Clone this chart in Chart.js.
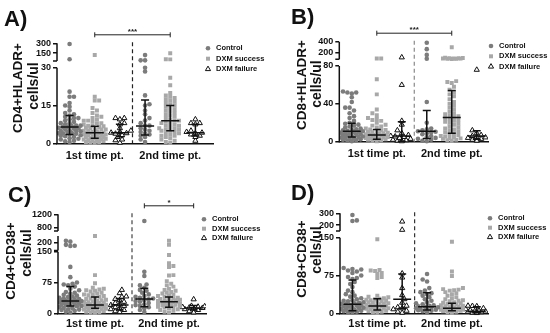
<!DOCTYPE html>
<html>
<head>
<meta charset="utf-8">
<script src="https://cdn.jsdelivr.net/npm/chart.js"></script>
<style>
  body { margin: 0; background: #fff; font-family: "Liberation Sans", Arial, sans-serif; }
  #wrap { position: relative; width: 550px; height: 333px; overflow: hidden; }
  canvas { position: absolute; }
  .letter { position: absolute; font-weight: bold; font-size: 22px; line-height: 22px; color: #111; }
  .yt { position: absolute; font-weight: bold; line-height: 16px; white-space: nowrap; color: #111;
        transform: translate(-50%, -50%) rotate(-90deg); }
  .l1 { font-size: 13.5px; }
  .l2 { font-size: 14px; }
</style>
</head>
<body>
<div id="wrap">
  <canvas id="chartA" width="275" height="166" style="left:0;top:0"></canvas>
  <canvas id="chartB" width="275" height="166" style="left:275px;top:0"></canvas>
  <canvas id="chartC" width="275" height="167" style="left:0;top:166px"></canvas>
  <canvas id="chartD" width="275" height="167" style="left:275px;top:166px"></canvas>

  <div class="letter" style="left:4px;top:8px">A)</div>
  <div class="letter" style="left:291px;top:6px">B)</div>
  <div class="letter" style="left:8px;top:184px">C)</div>
  <div class="letter" style="left:291px;top:182px">D)</div>

  <div class="yt l1" style="left:18px;top:88px">CD4+HLADR+</div>
  <div class="yt l2" style="left:33px;top:86px">cells/ul</div>
  <div class="yt l1" style="left:302px;top:85px">CD8+HLADR+</div>
  <div class="yt l2" style="left:316px;top:84px">cells/ul</div>
  <div class="yt l1" style="left:11px;top:261px">CD4+CD38+</div>
  <div class="yt l2" style="left:26px;top:253px">cells/ul</div>
  <div class="yt l1" style="left:302px;top:259px">CD8+CD38+</div>
  <div class="yt l2" style="left:316px;top:250px">cells/ul</div>
</div>

<script>
const groupNames = ["Control", "DXM success", "DXM failure"];
const timeLabels = ["1st time pt.", "2nd time pt."];
const timeTicks = [2, 5];

// Panel A: CD4+HLADR+
const aTicks = [0, 15, 30, 150, 300];
const aCtrl1 = [290, 56, 20.5, 18.5, 18.5, 16, 15, 14.5, 13, 12, 11.5, 11, 10.5, 10, 10, 9.5, 9, 8.5, 8, 8, 7.5, 7, 7, 6.8, 6.5, 6.5, 6.2, 6, 5.8, 5.5, 5.2, 5, 5, 4.8, 4.5, 4.2, 4, 4, 3.8, 3.5, 3.2, 3, 2.8, 2.5, 2, 1.8, 1.5, 1, 0.8, 0.5];
const aSucc1 = [120, 18.5, 17, 17, 14, 13, 12, 11, 10.5, 10, 9.5, 9, 9, 8.5, 8, 8, 7.5, 7, 7, 6.8, 6.5, 6.2, 6, 6, 5.5, 5.5, 5, 5, 4.8, 4.5, 4.2, 4, 4, 4, 3.8, 3.5, 3.5, 3.2, 3, 3, 2.8, 2.5, 2.5, 2.2, 2, 2, 1.8, 1.5, 1.5, 1.2, 1, 1, 0.8, 0.5, 0.5, 0.3, 0.2];
const aFail1 = [10, 10, 9.5, 8, 7.5, 6, 5, 4.5, 4.2, 4, 3.8, 3.2, 2.5, 1.5, 1.2, 0.2];
const aCtrl2 = [120, 40, 40, 30, 28.5, 19, 15.5, 15, 13, 11.5, 10, 9, 8, 7, 7, 6, 5.5, 5, 4.5, 4, 3.5, 3, 2.5, 1.5, 0.5];
const aSucc2 = [147, 56, 55, 26, 23, 20, 19, 18.5, 18, 17.5, 17, 16.5, 16, 15.5, 15, 14.5, 14, 13.5, 13, 12.5, 12, 11.5, 11, 10.5, 10, 9.5, 9, 9, 8.5, 8, 8, 7.5, 7, 7, 6.5, 6, 6, 5.5, 5.5, 5, 5, 4.5, 4, 4, 3.5, 3, 3, 2.5, 2, 1.5, 1, 0.5, 0.2];
const aFail2 = [9.5, 8, 8, 7.5, 5, 4.5, 4.2, 4, 3.5, 3, 2.5, 1];
const aMedian = [6.5, 4.2, 4.2, 6.9, 8.9, 4.2];
const aLow = [3.5, 2, 2.6, 3.3, 5, 2.9];
const aHigh = [11, 6.8, 7.6, 17.2, 15, 7.6];

// Panel B: CD8+HLADR+
const bTicks = [0, 40, 80, 200, 400];
const bCtrl1 = [53, 52, 52, 51, 47, 42, 36, 36, 33, 30, 27, 25, 22, 20, 19, 18, 17, 16, 15, 14, 13, 12.5, 12, 11.5, 11, 10.5, 10, 9.5, 9, 8.5, 8, 7.5, 7, 6.5, 6, 5.5, 5, 4.5, 4, 3.5, 3, 2.5, 2, 1.5, 1, 0.5];
const bSucc1 = [95, 95, 66, 50, 34, 30, 28, 25, 24, 23, 22, 20, 18, 17, 16, 15, 14, 13, 12.5, 12, 11, 10.5, 10, 9.5, 9, 8.5, 8, 7.5, 7, 7, 6.5, 6, 5.5, 5, 5, 4.5, 4, 3.5, 3, 3, 2.5, 2, 1.5, 1, 0.5];
const bFail1 = [115, 60, 22, 18, 12, 9, 7, 6, 5.5, 5, 4, 3, 2, 1.5, 1, 0.5];
const bCtrl2 = [380, 265, 160, 90, 42, 20, 14, 13, 12, 11, 10.5, 10, 9, 8, 6, 5, 4, 3, 2, 1, 0.5];
const bSucc2 = [300, 110, 105, 100, 100, 95, 95, 92, 90, 88, 85, 64, 63, 62, 58, 55, 52, 50, 48, 45, 42, 40, 38, 36, 34, 32, 30, 29, 28, 27, 26, 25, 24, 23, 22, 21, 20, 19, 18, 16, 15, 14, 13, 12, 11, 10, 9, 8, 7, 6, 5.5, 5, 4, 3.5, 3, 2, 1.5, 1];
const bFail2 = [76, 12, 9, 7, 6, 5, 4.5, 4, 3, 2, 1];
const bMedian = [11, 7, 6, 11, 25.5, 6];
const bLow = [5, 2.5, 0.5, 3.5, 8.8, 2.5];
const bHigh = [19.4, 13, 21, 33, 54, 11.5];

// Panel C: CD4+CD38+
const cTicks = [0, 75, 150, 200, 800, 1200];
const cCtrl1 = [210, 205, 185, 180, 178, 113, 88, 75, 72, 70, 68, 65, 60, 56, 52, 50, 48, 45, 43, 41, 40, 38, 36, 35, 34, 33, 32, 31, 30, 29, 28, 27, 26, 25, 24, 22, 21, 20, 19, 18, 17, 15, 13, 12, 10, 9, 8, 6, 4, 2];
const cSucc1 = [240, 93, 73, 62, 60, 58, 56, 55, 53, 50, 48, 46, 45, 44, 42, 40, 38, 36, 35, 33, 32, 30, 29, 28, 27, 26, 25, 24, 23, 22, 21, 20, 20, 19, 18, 17, 16, 15, 14, 13, 12, 11, 10, 9, 8, 7, 6, 5, 4, 3, 2, 1];
const cFail1 = [57, 49, 41, 40, 35, 32, 28, 25, 22, 20, 18, 15, 12, 10, 8, 5, 3];
const cCtrl2 = [1000, 101, 91, 70, 68, 62, 57, 55, 50, 46, 42, 40, 38, 36, 34, 32, 30, 28, 25, 22, 20, 18, 15, 12, 8, 3];
const cSucc2 = [210, 185, 142, 122, 115, 113, 93, 92, 78, 72, 68, 65, 60, 57, 55, 52, 50, 48, 45, 43, 42, 40, 38, 36, 35, 34, 33, 32, 31, 30, 29, 28, 28, 27, 26, 25, 24, 23, 22, 21, 20, 19, 18, 17, 16, 15, 14, 12, 10, 8, 6, 4, 2];
const cFail2 = [34, 18, 17, 16, 15, 14, 13, 12, 10, 8, 5, 2];
const cMedian = [30, 20, 20, 35, 28, 13];
const cLow = [18, 12, 8, 16, 14.6, 8];
const cHigh = [65, 40, 36, 61, 40, 19];

// Panel D: CD8+CD38+
const dTicks = [0, 75, 150, 200, 300];
const dCtrl1 = [285, 240, 235, 90, 88, 87, 85, 83, 80, 75, 72, 70, 68, 62, 58, 52, 45, 42, 38, 35, 33, 30, 28, 26, 25, 24, 22, 21, 20, 19, 18, 17, 16, 15, 14, 13, 12, 11, 10, 9, 8, 7, 6, 5, 4, 3, 2, 1];
const dSucc1 = [147, 86, 85, 84, 80, 78, 72, 70, 35, 33, 32, 30, 29, 28, 27, 26, 25, 24, 23, 22, 21, 20, 19, 18, 17, 16, 15, 15, 14, 13, 12, 11, 10, 10, 9, 8, 7, 6, 5, 4, 3, 2, 1];
const dFail1 = [230, 160, 79, 71, 50, 36, 28, 21, 15, 12, 10, 8, 5, 3, 1];
const dCtrl2 = [78, 67, 63, 50, 45, 42, 40, 38, 35, 32, 28, 25, 22, 20, 18, 16, 15, 14, 13, 12, 11, 10, 9, 8, 7, 6, 5, 4, 2];
const dSucc2 = [142, 83, 74, 50, 48, 47, 46, 45, 42, 40, 38, 35, 32, 30, 28, 26, 25, 24, 22, 21, 20, 19, 18, 17, 16, 15, 14, 13, 12, 11, 10, 10, 9, 9, 8, 8, 7, 7, 6, 6, 5, 5, 4, 3, 2, 1];
const dFail2 = [15, 14.5, 14, 10, 8, 6, 5, 4, 3.5, 3, 2, 1, 0.5];
const dMedian = [18, 14.5, 28, 13, 10, 4];
const dLow = [5, 6.6, 10, 6.6, 5.3, 1.3];
const dHigh = [66, 29, 78, 41, 20, 13];

const pointColors = ["#7c7c7c", "#a8a8a8", "#ffffff"];
const pointStyles = ["circle", "rect", "triangle"];

const panels = [
  { id: "chartA", w: 275, h: 166, left: 57, right: 213, top: 43.3, bottom: 143.3, xMax: 6.7, xPad: 6,
    segs: [{ from: 0, to: 30, lo: 0, hi: 0.756 }, { from: 30, to: 300, lo: 0.823, hi: 1 }],
    ticks: aTicks, groups: [[aCtrl1, aCtrl2], [aSucc1, aSucc2], [aFail1, aFail2]],
    median: aMedian, low: aLow, high: aHigh,
    legendX: 208, legendY: 48.3, legendStep: 10.4, bracket: { from: 2, to: 5, label: "***" }, dash: "#222" },
  { id: "chartB", w: 275, h: 166, left: 64.3, right: 213, top: 41.7, bottom: 141.7, xMax: 6.45, xPad: 6,
    segs: [{ from: 0, to: 80, lo: 0, hi: 0.757 }, { from: 80, to: 400, lo: 0.824, hi: 1 }],
    ticks: bTicks, groups: [[bCtrl1, bCtrl2], [bSucc1, bSucc2], [bFail1, bFail2]],
    median: bMedian, low: bLow, high: bHigh,
    legendX: 216, legendY: 46, legendStep: 10.3, bracket: { from: 2, to: 5, label: "***" }, dash: "#8a8a8a" },
  { id: "chartC", w: 275, h: 167, left: 58, right: 206, top: 48.3, bottom: 147.3, xMax: 6.5, xPad: 4,
    segs: [{ from: 0, to: 150, lo: 0, hi: 0.622 }, { from: 150, to: 240, lo: 0.634, hi: 0.781 },
           { from: 700, to: 1200, lo: 0.831, hi: 1 }],
    ticks: cTicks, groups: [[cCtrl1, cCtrl2], [cSucc1, cSucc2], [cFail1, cFail2]],
    median: cMedian, low: cLow, high: cHigh,
    legendX: 204, legendY: 53.3, legendStep: 9.4, bracket: { from: 4, to: 6, label: "*" }, dash: "#444" },
  { id: "chartD", w: 275, h: 167, left: 65, right: 213, top: 47.3, bottom: 147.3, xMax: 6.45, xPad: 4,
    segs: [{ from: 0, to: 150, lo: 0, hi: 0.756 }, { from: 150, to: 300, lo: 0.823, hi: 1 }],
    ticks: dTicks, groups: [[dCtrl1, dCtrl2], [dSucc1, dSucc2], [dFail1, dFail2]],
    median: dMedian, low: dLow, high: dHigh,
    legendX: 215, legendY: 52.3, legendStep: 9.4, bracket: null, dash: "#333" },
];

Chart.defaults.font.family = '"Liberation Sans", Arial, sans-serif';
Chart.defaults.color = "#111";

// value -> 0..1 position along a broken axis
function fracOf(segs, v) {
  for (let i = 0; i < segs.length; i++) {
    const s = segs[i];
    if (v <= s.to || i === segs.length - 1) {
      if (i > 0 && v < s.from) return segs[i - 1].hi;
      const t = Math.max(0, Math.min(1, (v - s.from) / (s.to - s.from)));
      return s.lo + t * (s.hi - s.lo);
    }
  }
  return 0;
}

class BrokenScale extends Chart.LinearScale {
  static id = "broken";
  determineDataLimits() {
    const segs = this.options.segments;
    this.min = segs[0].from;
    this.max = segs[segs.length - 1].to;
  }
  buildTicks() {
    return this.options.tickValues.map((v) => ({ value: v }));
  }
  getPixelForValue(value) {
    if (value === null || value === undefined) return NaN;
    return this.getPixelForDecimal(fracOf(this.options.segments, value));
  }
}
Chart.register(BrokenScale);

// simple deterministic swarm so the dots spread sideways like a Prism dot plot
function swarm(values, center, p) {
  const unit = (p.right - p.left) / (p.xMax - 0.5);
  const hgt = p.bottom - p.top;
  const placed = [];
  return values.slice().sort((a, b) => a - b).map((v) => {
    const py = fracOf(p.segs, v) * hgt;
    let best = 0, bestGap = -1, found = false;
    for (let k = 0; k <= 5 && !found; k++) {
      const o = k * 2.2;
      const offs = k === 0 ? [0] : (placed.length % 2 ? [-o, o] : [o, -o]);
      for (const off of offs) {
        let gap = Infinity;
        placed.forEach((q) => { gap = Math.min(gap, Math.hypot(q.x - off, q.y - py)); });
        if (gap >= 3.6) { best = off; found = true; break; }
        if (gap > bestGap) { bestGap = gap; best = off; }
      }
    }
    placed.push({ x: best, y: py });
    return { x: center + best / unit, y: v };
  });
}

function drawSymbol(ctx, style, x, y) {
  ctx.beginPath();
  if (style === "circle") {
    ctx.fillStyle = pointColors[0];
    ctx.arc(x, y, 2.3, 0, Math.PI * 2);
    ctx.fill();
  } else if (style === "rect") {
    ctx.fillStyle = pointColors[1];
    ctx.fillRect(x - 2, y - 2, 4, 4);
  } else {
    ctx.moveTo(x, y - 3);
    ctx.lineTo(x + 2.6, y + 1.5);
    ctx.lineTo(x - 2.6, y + 1.5);
    ctx.closePath();
    ctx.fillStyle = "#fff";
    ctx.fill();
    ctx.strokeStyle = "#111";
    ctx.lineWidth = 1;
    ctx.stroke();
  }
}

const panelExtras = {
  id: "panelExtras",
  beforeDatasetsDraw(chart, args, opts) {
    const { ctx, chartArea } = chart;
    const xs = chart.scales.x;
    const x = xs.getPixelForValue(3.5);
    ctx.save();
    ctx.strokeStyle = opts.dash;
    ctx.lineWidth = 1.2;
    ctx.setLineDash([4, 3]);
    ctx.beginPath();
    ctx.moveTo(x, chartArea.top - 1);
    ctx.lineTo(x, chartArea.bottom);
    ctx.stroke();
    ctx.restore();
  },
  afterDatasetsDraw(chart, args, opts) {
    const { ctx } = chart;
    const xs = chart.scales.x, ys = chart.scales.y;
    ctx.save();
    ctx.strokeStyle = "#111";
    ctx.lineWidth = 1.5;
    opts.median.forEach((m, i) => {
      const cx = xs.getPixelForValue(i + 1);
      const half = xs.getPixelForValue(i + 1.36) - cx;
      const cap = xs.getPixelForValue(i + 1.16) - cx;
      const ym = ys.getPixelForValue(m);
      const yl = ys.getPixelForValue(opts.low[i]);
      const yh = ys.getPixelForValue(opts.high[i]);
      ctx.beginPath();
      ctx.moveTo(cx - half, ym); ctx.lineTo(cx + half, ym);
      ctx.moveTo(cx, yl); ctx.lineTo(cx, yh);
      ctx.moveTo(cx - cap, yl); ctx.lineTo(cx + cap, yl);
      ctx.moveTo(cx - cap, yh); ctx.lineTo(cx + cap, yh);
      ctx.stroke();
    });
    ctx.restore();
  },
  afterDraw(chart, args, opts) {
    const { ctx, chartArea } = chart;
    const xs = chart.scales.x, ys = chart.scales.y;
    ctx.save();
    // broken y axis line
    ctx.strokeStyle = "#111";
    ctx.lineWidth = 1.5;
    opts.segs.forEach((s, i) => {
      const y0 = ys.getPixelForDecimal(s.lo), y1 = ys.getPixelForDecimal(s.hi);
      ctx.beginPath();
      ctx.moveTo(chartArea.left, y0 + (i === 0 ? 0.75 : 0));
      ctx.lineTo(chartArea.left, y1);
      if (i > 0) {
        ctx.moveTo(chartArea.left - 4, y0);
        ctx.lineTo(chartArea.left, y0);
      }
      ctx.stroke();
    });
    // legend
    ctx.font = 'bold 7.5px "Liberation Sans", Arial, sans-serif';
    ctx.textBaseline = "middle";
    ctx.textAlign = "left";
    groupNames.forEach((name, i) => {
      const y = opts.legendY + i * opts.legendStep;
      drawSymbol(ctx, pointStyles[i], opts.legendX, y);
      ctx.fillStyle = "#111";
      ctx.fillText(name, opts.legendX + 8, y);
    });
    // significance bracket
    if (opts.bracket) {
      const b = opts.bracket;
      const x1 = xs.getPixelForValue(b.from), x2 = xs.getPixelForValue(b.to);
      const y = chartArea.top - 8.5;
      ctx.strokeStyle = "#222";
      ctx.lineWidth = 1;
      ctx.beginPath();
      ctx.moveTo(x1, y); ctx.lineTo(x2, y);
      ctx.moveTo(x1, y - 2.5); ctx.lineTo(x1, y + 2.5);
      ctx.moveTo(x2, y - 2.5); ctx.lineTo(x2, y + 2.5);
      ctx.stroke();
      ctx.fillStyle = "#222";
      ctx.textAlign = "center";
      ctx.font = 'bold 8px "Liberation Sans", Arial, sans-serif';
      ctx.fillText(b.label, (x1 + x2) / 2, y - 3.5);
    }
    ctx.restore();
  },
};

panels.forEach((p) => {
  const datasets = p.groups.map((pair, g) => ({
    label: groupNames[g],
    data: swarm(pair[0], g + 1, p).concat(swarm(pair[1], g + 4, p)),
    pointStyle: pointStyles[g],
    pointRadius: g === 0 ? 2.3 : g === 1 ? 2.8 : 3,
    backgroundColor: pointColors[g],
    borderColor: g === 2 ? "#111" : pointColors[g],
    borderWidth: g === 2 ? 1 : 0,
  }));

  new Chart(document.getElementById(p.id), {
    type: "scatter",
    data: { datasets },
    plugins: [panelExtras],
    options: {
      responsive: false,
      animation: false,
      layout: { padding: { left: 0, top: p.top, right: p.w - p.right, bottom: 0 } },
      plugins: {
        legend: { display: false },
        tooltip: { enabled: false },
        panelExtras: {
          segs: p.segs, dash: p.dash, median: p.median, low: p.low, high: p.high,
          legendX: p.legendX, legendY: p.legendY, legendStep: p.legendStep, bracket: p.bracket,
        },
      },
      scales: {
        x: {
          type: "linear",
          min: 0.5,
          max: p.xMax,
          afterBuildTicks: (s) => { s.ticks = timeTicks.map((v) => ({ value: v })); },
          afterFit: (s) => { s.height = p.h - p.bottom; },
          ticks: {
            callback: (v) => timeLabels[timeTicks.indexOf(v)],
            font: { weight: "bold", size: 11 },
            color: "#111",
            padding: p.xPad,
            autoSkip: false,
            maxRotation: 0,
          },
          grid: { display: false, drawTicks: false },
          border: { display: true, color: "#111", width: 1.5 },
        },
        y: {
          type: "broken",
          segments: p.segs,
          tickValues: p.ticks,
          afterFit: (s) => { s.width = p.left; },
          ticks: {
            callback: (v) => String(v),
            font: { weight: "bold", size: 9 },
            color: "#111",
            padding: 2,
            autoSkip: false,
          },
          grid: { display: true, drawOnChartArea: false, drawTicks: true, tickLength: 4, color: "#111", lineWidth: 1.5 },
          border: { display: false },
        },
      },
    },
  });
});
</script>
</body>
</html>
